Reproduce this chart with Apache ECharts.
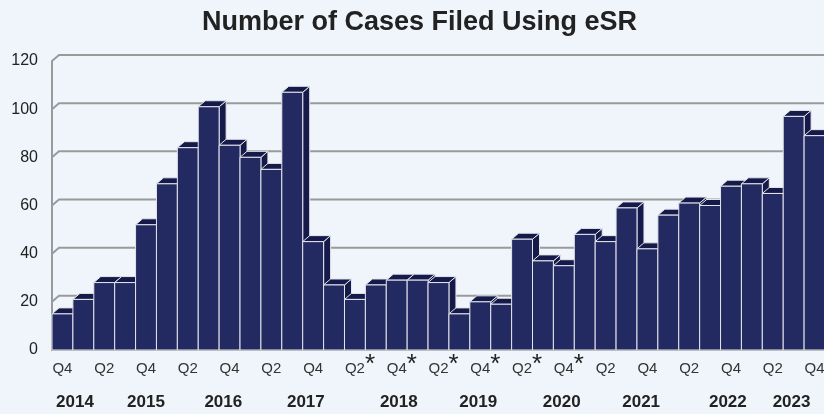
<!DOCTYPE html>
<html>
<head>
<meta charset="utf-8">
<script src="https://cdn.jsdelivr.net/npm/echarts@6/dist/echarts.min.js"></script>
<style>
  html, body { margin: 0; padding: 0; background: #eff5fa; }
  #chart { width: 824px; height: 414px; }
</style>
</head>
<body>
<div id="chart"></div>
<script>
// quarters from Q4 2014 to Q4 2023, '*' marks the flagged ones
const quarters = [
  'Q4',
  'Q1', 'Q2', 'Q3', 'Q4',
  'Q1', 'Q2', 'Q3', 'Q4',
  'Q1', 'Q2', 'Q3', 'Q4',
  'Q1', 'Q2*', 'Q3*', 'Q4*',
  'Q1*', 'Q2*', 'Q3*', 'Q4*',
  'Q1*', 'Q2*', 'Q3*', 'Q4*',
  'Q1', 'Q2', 'Q3', 'Q4',
  'Q1', 'Q2', 'Q3', 'Q4',
  'Q1', 'Q2', 'Q3', 'Q4'
];
const cases = [
  15,
  21, 28, 28, 52,
  69, 84, 101, 85,
  80, 75, 107, 45,
  27, 21, 27, 29,
  29, 28, 15, 20,
  19, 46, 37, 35,
  48, 45, 59, 42,
  56, 61, 60, 68,
  69, 65, 97, 89
];
const yearLabels = ['2014', '2015', '2016', '2017', '2018', '2019', '2020', '2021', '2022', '2023'];
// where each year label sits, in bar index units
const yearPos = [0.6, 4.0, 7.7, 11.65, 16.1, 19.9, 23.9, 27.7, 31.85, 34.9];
const yTicks = [0, 20, 40, 60, 80, 100, 120];

const DX = 7, DY = -6; // 3d depth offset
const FRONT = '#232a62', DARK = '#151a4b', EDGE = '#e4e6ea';
const FONT = '"Liberation Sans", Arial, sans-serif';

const chart = echarts.init(document.getElementById('chart'));

function renderGrid(params, api) {
  const cs = params.coordSys;
  const y = api.coord([0, api.value(0)])[1];
  return {
    type: 'polyline',
    shape: { points: [[cs.x, y], [cs.x + DX, y + DY], [cs.x + cs.width + DX, y + DY]] },
    style: { stroke: '#9a9a9a', lineWidth: 2, fill: null }
  };
}

function renderBar(params, api) {
  const i = api.value(0);
  const v = api.value(1);
  const base = api.coord([i, 0]);
  const top = api.coord([i, v]);
  const w = api.size([1, 0])[0];
  const x0 = base[0] - w / 2, x1 = base[0] + w / 2;
  const ty = top[1], by = base[1];
  const edge = { stroke: EDGE, lineWidth: 1 };
  return {
    type: 'group',
    children: [
      {
        type: 'polygon', z2: i * 3,
        shape: { points: [[x1, ty], [x1 + DX, ty + DY], [x1 + DX, by + DY], [x1, by]] },
        style: Object.assign({ fill: DARK }, edge)
      },
      {
        type: 'polygon', z2: i * 3 + 1,
        shape: { points: [[x0, ty], [x0 + DX, ty + DY], [x1 + DX, ty + DY], [x1, ty]] },
        style: Object.assign({ fill: DARK }, edge)
      },
      {
        type: 'rect', z2: i * 3 + 2,
        shape: { x: x0, y: ty, width: w, height: by - ty },
        style: Object.assign({ fill: FRONT }, edge)
      }
    ]
  };
}

const option = {
  backgroundColor: '#eff5fa',
  animation: false,
  title: {
    text: 'Number of Cases Filed Using eSR',
    left: 197,
    top: 4,
    textStyle: { fontFamily: FONT, fontSize: 27, fontWeight: 'bold', color: '#222' }
  },
  grid: { left: 52, top: 61, width: 773, height: 289, outerBoundsMode: 'none' },
  xAxis: {
    type: 'category',
    data: quarters,
    axisLine: { lineStyle: { color: '#9a9a9a', width: 2 } },
    axisTick: { show: false },
    axisLabel: {
      interval: 1,
      margin: 2,
      formatter: function (q) {
        if (q.endsWith('*')) return '{p|}{q|' + q.slice(0, -1) + '}{s|*}';
        return '{p|}{q|' + q + '}{e| }';
      },
      rich: {
        q: { fontFamily: FONT, fontSize: 15, color: '#333' },
        p: { width: 10 },
        s: { fontFamily: FONT, fontSize: 26, color: '#222', width: 10, padding: [0, 0, 8, 0] },
        e: { fontFamily: FONT, fontSize: 26, width: 10, padding: [0, 0, 8, 0] }
      }
    }
  },
  yAxis: {
    type: 'value',
    min: 0,
    max: 120,
    interval: 20,
    axisLine: { show: true, lineStyle: { color: '#9a9a9a', width: 2 } },
    axisTick: { show: false },
    splitLine: { show: false },
    axisLabel: { fontFamily: FONT, fontSize: 16, color: '#222', margin: 14 }
  },
  series: [
    {
      type: 'custom',
      renderItem: renderGrid,
      data: yTicks.slice(1),
      encode: { y: 0 },
      silent: true,
      z: 1,
      clip: false
    },
    {
      type: 'custom',
      renderItem: renderBar,
      data: cases.map((v, i) => [i, v]),
      encode: { x: 0, y: 1 },
      z: 2,
      clip: false
    }
  ]
};

chart.setOption(option);

// year labels under the quarter labels, placed between bar centres
const x0 = chart.convertToPixel({ xAxisIndex: 0 }, 0);
const step = chart.convertToPixel({ xAxisIndex: 0 }, 1) - x0;
const yearText = yearLabels.map((label, k) => ({
  type: 'text',
  x: x0 + yearPos[k] * step,
  y: 402,
  style: {
    text: label,
    fontFamily: FONT,
    fontSize: 17,
    fontWeight: 'bold',
    fill: '#222',
    align: 'center',
    verticalAlign: 'middle'
  }
}));
chart.setOption({ graphic: yearText });
</script>
</body>
</html>
